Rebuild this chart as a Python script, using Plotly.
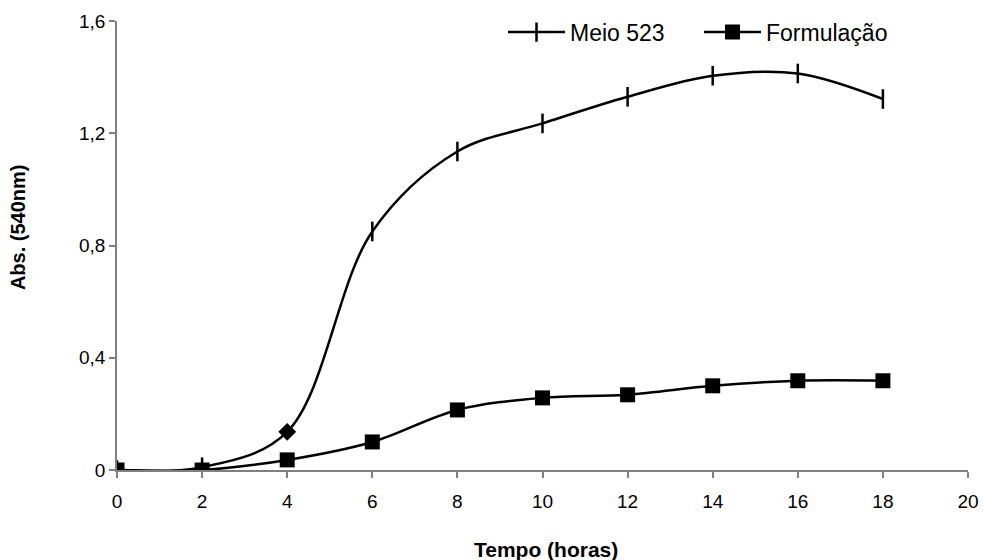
import plotly.graph_objects as go

tempo = [0, 2, 4, 6, 8, 10, 12, 14, 16, 18]
meio_523 = [0.0, 0.01, 0.136, 0.85, 1.135, 1.235, 1.33, 1.405, 1.413, 1.322]
meio_symbols = ["line-ns", "line-ns", "diamond", "line-ns", "line-ns", "line-ns", "line-ns", "line-ns", "line-ns", "line-ns"]
formulacao = [0.0, 0.0, 0.036, 0.1, 0.214, 0.257, 0.268, 0.3, 0.318, 0.318]

x_ticks = [0, 2, 4, 6, 8, 10, 12, 14, 16, 18, 20]
y_ticks = [0, 0.4, 0.8, 1.2, 1.6]

font = "Liberation Sans, Arial, sans-serif"

fig = go.Figure()
fig.add_trace(go.Scatter(
    x=tempo, y=meio_523, name="Meio 523", mode="lines+markers",
    line=dict(color="black", width=2.5, shape="spline", smoothing=1),
    marker=dict(symbol=meio_symbols,
                size=[14 if s == "line-ns" else 11 for s in meio_symbols],
                color=["#000000"] * len(meio_symbols), opacity=1,
                line=dict(color="#000000", width=2.5)),
))
fig.add_trace(go.Scatter(
    x=tempo, y=formulacao, name="Formulação", mode="lines+markers",
    line=dict(color="black", width=2.5, shape="spline", smoothing=1),
    marker=dict(symbol="square", size=15, color="black", line=dict(color="black", width=0)),
))

fig.update_layout(
    width=983, height=560,
    margin=dict(l=117, r=15, t=21, b=90, autoexpand=False),
    paper_bgcolor="white", plot_bgcolor="white",
    separators=", ",
    font=dict(family=font, size=19, color="black"),
    showlegend=True,
    legend=dict(orientation="h", x=0.4536, y=1.023, xanchor="left", yanchor="top",
                font=dict(size=23, family=font), bgcolor="rgba(0,0,0,0)",
                tracegroupgap=0, itemwidth=57, entrywidth=124),
    xaxis=dict(range=[0, 20], tickvals=x_ticks, showgrid=False, zeroline=False,
               showline=True, linecolor="#808080", linewidth=1.5, automargin=False,
               ticks="outside", tickcolor="#808080", ticklen=6, tickwidth=1.5,
               tickfont=dict(size=19), ticklabelstandoff=7),
    yaxis=dict(range=[0, 1.6], tickvals=y_ticks, showgrid=False, zeroline=False,
               showline=True, linecolor="#808080", linewidth=1.5, automargin=False,
               ticks="outside", tickcolor="#808080", ticklen=6, tickwidth=1.5,
               tickfont=dict(size=19), ticklabelstandoff=0),
    annotations=[
        dict(text="<b>Tempo (horas)</b>", xref="paper", yref="paper",
             x=0.504, y=-0.176, xanchor="center", yanchor="middle",
             showarrow=False, font=dict(size=21)),
        dict(text="<b>Abs. (540nm)</b>", xref="paper", yref="paper",
             x=-0.1163, y=0.541, xanchor="center", yanchor="middle",
             textangle=-90, showarrow=False, font=dict(size=20)),
    ],
)
fig.update_xaxes(layer="below traces")
fig.update_yaxes(layer="below traces")

fig.write_html("out.html")
